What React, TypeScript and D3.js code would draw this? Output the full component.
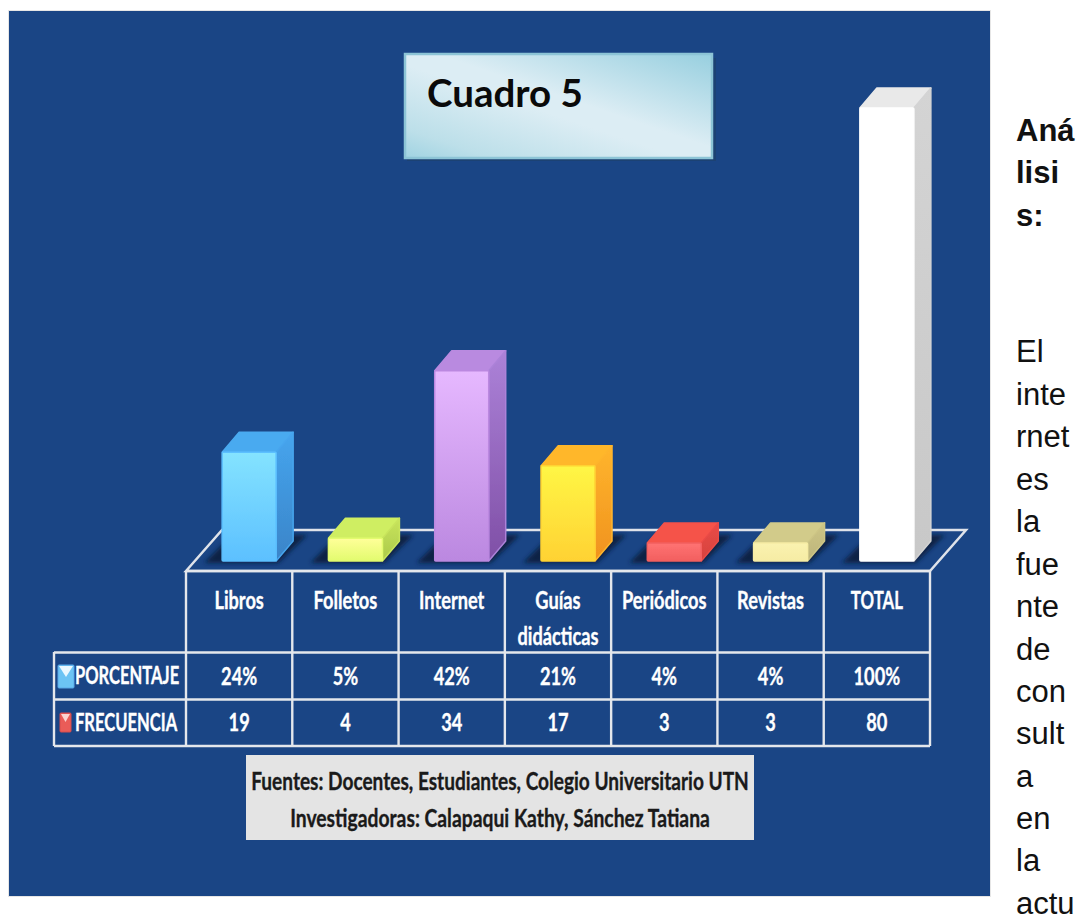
import React from "react";
import * as d3 from "d3";

const categories = ["Libros", "Folletos", "Internet", "Guías didácticas", "Periódicos", "Revistas", "TOTAL"];
const porcentaje = [24, 5, 42, 21, 4, 4, 100];
const frecuencia = [19, 4, 34, 17, 3, 3, 80];
const frontTop = ["#84e3ff", "#ffff99", "#e6b8ff", "#fff645", "#ff7373", "#faf2b0", "#ffffff"];
const frontBottom = ["#5cc0ff", "#e2fb6e", "#bb88e0", "#ffd233", "#f25f5f", "#f6eca4", "#ffffff"];
const sideTop = ["#46a5ee", "#c8e45c", "#ac82d8", "#ffb52d", "#ea4b46", "#cdc585", "#d4d4d4"];
const sideBottom = ["#3a84c8", "#abc94a", "#7f4fa6", "#f0921e", "#d5423f", "#bdb57c", "#c8c8c8"];
const topColor = ["#4aaaf0", "#cfee62", "#b98ae0", "#ffb72c", "#f5524a", "#d2cb8a", "#e9e9e9"];
const sideText = [
  { t: "Aná", y: 141, b: true }, { t: "lisi", y: 183, b: true }, { t: "s:", y: 226, b: true },
  { t: "El", y: 362 }, { t: "inte", y: 405 }, { t: "rnet", y: 447 }, { t: "es", y: 490 },
  { t: "la", y: 532 }, { t: "fue", y: 575 }, { t: "nte", y: 617 }, { t: "de", y: 660 },
  { t: "con", y: 702 }, { t: "sult", y: 744 }, { t: "a", y: 787 }, { t: "en", y: 829 },
  { t: "la", y: 871 }, { t: "actu", y: 914 },
];

const W = 1084, H = 917;
const x = d3.scaleBand<string>().domain(categories).range([186, 930]);
const y = d3.scaleLinear().domain([0, 100]).range([561, 108]);
const DX = 17, DY = 20, BW = 54;
const poly = (p: number[][]) => d3.line()(p as [number, number][]) + "Z";

function Cond({ x: px, y: py, sx = 0.76, size = 24, anchor = "middle", fill = "#fff", children }: any) {
  return (
    <text
      transform={`translate(${px},${py}) scale(${sx},1)`}
      textAnchor={anchor}
      fontFamily="Lato"
      fontWeight={700}
      fontSize={size}
      fill={fill}
      stroke={fill}
      strokeWidth={0.35}
    >
      {children}
    </text>
  );
}

export default function App() {
  const grid = [...categories.map((c) => x(c)!), 930];
  return (
    <svg width={W} height={H} style={{ position: "absolute", left: 0, top: 0, background: "#fff" }}>
      <defs>
        {categories.map((c, i) => (
          <React.Fragment key={c}>
            <linearGradient id={`f${i}`} x1="0" y1="0" x2="0" y2="1">
              <stop offset="0" stopColor={frontTop[i]} />
              <stop offset="1" stopColor={frontBottom[i]} />
            </linearGradient>
            <linearGradient id={`s${i}`} x1="0" y1="0" x2="0" y2="1">
              <stop offset="0" stopColor={sideTop[i]} />
              <stop offset="1" stopColor={sideBottom[i]} />
            </linearGradient>
          </React.Fragment>
        ))}
        <linearGradient id="title" x1="0" y1="1" x2="1" y2="0">
          <stop offset="0" stopColor="#a0d3e2" />
          <stop offset="0.14" stopColor="#bcdfe9" />
          <stop offset="0.45" stopColor="#dcedf4" />
          <stop offset="0.55" stopColor="#dcedf4" />
          <stop offset="1" stopColor="#97cfdf" />
        </linearGradient>
        <filter id="blur" x="-30%" y="-30%" width="160%" height="160%"><feGaussianBlur stdDeviation="2" /></filter>
        <filter id="soft"><feGaussianBlur stdDeviation="0.35" /></filter>
      </defs>

      <rect x={8.5} y={10.5} width={982} height={886} fill="#1a4585" stroke="#e6e6e6" />

      {/* title box */}
      <rect x={407} y={58} width={309} height={103} fill="#1c4273" />
      <rect x={405} y={54} width={307} height={104} fill="url(#title)" stroke="#8cc4d6" strokeWidth={2.5} />
      <text x={427} y={107} fontFamily="Lato" fontWeight={700} fontSize={38.5} fill="#0a0a0a">Cuadro 5</text>

      {/* floor */}
      <path d={poly([[186, 571], [222, 530], [966, 530], [930, 571]])} fill="none" stroke="#dfe3ea" strokeWidth={2.5} />

      {/* bars */}
      {categories.map((c, i) => {
        const x0 = x(c)! + x.bandwidth() / 2 - BW / 2 + 10;
        const x1 = x0 + BW;
        const top = y(porcentaje[i]);
        const base = y(0);
        return (
          <g key={c}>
            <path
              d={poly([[x0 - 18, base + 2], [x1 + 2, base + 2], [x1 + DX + 14, base - DY - 6], [x0 + 10, base - DY - 6]])}
              fill="#0c2244"
              filter="url(#blur)"
            />
            <g filter="url(#soft)" strokeWidth={1.5} strokeLinejoin="round">
              <path d={poly([[x0, top], [x0 + DX, top - DY], [x1 + DX, top - DY], [x1, top]])} fill={topColor[i]} stroke={topColor[i]} />
              <path d={poly([[x1, top], [x1 + DX, top - DY], [x1 + DX, base - DY], [x1, base]])} fill={`url(#s${i})`} stroke={sideTop[i]} />
              <rect x={x0} y={top} width={BW} height={base - top} rx={1} fill={`url(#f${i})`} stroke={frontBottom[i]} />
            </g>
          </g>
        );
      })}

      {/* table */}
      <g stroke="#e4e7ec" strokeWidth={2.4} fill="none">
        <path d="M186,571H930" />
        <path d="M54,652.5H930M54,699.5H930M54,746H930" />
        <path d="M54,652V746" />
        {grid.map((g) => <line key={g} x1={g} x2={g} y1={571} y2={746} />)}
      </g>

      {categories.map((c, i) => {
        const cx = x(c)! + x.bandwidth() / 2;
        const lines = c.split(" ");
        return (
          <g key={c}>
            {lines.map((l, k) => <Cond key={l} x={cx} y={609 + k * 36} sx={c === c.toUpperCase() ? 0.7 : 0.76}>{l}</Cond>)}
            <Cond x={cx} y={685}>{porcentaje[i]}%</Cond>
            <Cond x={cx} y={731}>{frecuencia[i]}</Cond>
          </g>
        );
      })}

      {/* legend keys */}
      <rect x={58} y={665} width={16} height={23} rx={1} fill="#6cc4f4" stroke="#58a8e8" />
      <path d={poly([[59, 666], [73, 666], [66, 677]])} fill="#eaf8ff" />
      <rect x={60} y={713} width={11} height={19} rx={1} fill="#ea5c58" stroke="#d64c4c" />
      <path d={poly([[61, 714], [70, 714], [65.5, 722]])} fill="#fbd4d0" />
      <Cond x={75} y={684} anchor="start" sx={0.69}>PORCENTAJE</Cond>
      <Cond x={75} y={731} anchor="start" sx={0.69}>FRECUENCIA</Cond>

      {/* source box */}
      <rect x={246} y={755} width={508} height={85} fill="#e4e4e4" />
      <Cond x={500} y={790} sx={0.795} fill="#1a1a1a">Fuentes: Docentes, Estudiantes, Colegio Universitario UTN</Cond>
      <Cond x={500} y={827} sx={0.805} fill="#1a1a1a">Investigadoras: Calapaqui Kathy, Sánchez Tatiana</Cond>

      {/* side text */}
      {sideText.map((s, i) => (
        <text key={i} x={1016} y={s.y} fontFamily="Liberation Sans" fontWeight={s.b ? 700 : 400} fontSize={31} fill="#111">{s.t}</text>
      ))}
    </svg>
  );
}
